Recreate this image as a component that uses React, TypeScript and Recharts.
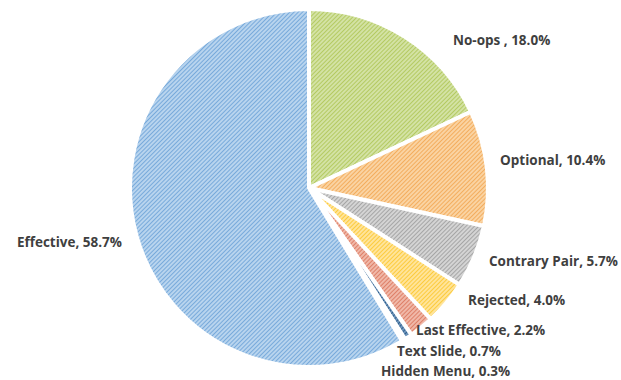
import { Pie, PieChart, Cell } from "recharts";

const CATEGORIES = [
  "No-ops ",
  "Optional",
  "Contrary Pair",
  "Rejected",
  "Last Effective",
  "Text Slide",
  "Hidden Menu",
  "Effective",
];
const SHARES = [18.0, 10.4, 5.7, 4.0, 2.2, 0.7, 0.3, 58.7];

// [light fill, hatch line]
const COLORS: Array<[string, string]> = [
  ["#d3e2a4", "#b4ca62"], // green
  ["#fad3a2", "#f3ad5e"], // orange
  ["#d4d4d4", "#a6a6a6"], // gray
  ["#ffe49a", "#fccb3e"], // yellow
  ["#f0b8a8", "#de8068"], // red
  ["#6f95bb", "#2f5f8c"], // dark blue
  ["#b8cde6", "#5b84b5"], // hidden menu
  ["#b8d4ee", "#78aadb"], // blue
];

// label anchor offsets from pie centre (left edge of text, or right edge for Effective)
const LABEL_OFFSETS: Array<[number, number, "start" | "end"]> = [
  [149, -143, "start"],
  [196, -23, "start"],
  [185, 78, "start"],
  [164, 117, "start"],
  [112, 147, "start"],
  [93, 168, "start"],
  [77, 188, "start"],
  [-182, 59, "end"],
];

const data = CATEGORIES.map((name, i) => ({ name, value: SHARES[i] }));

const CX = 304;
const CY = 183;

function renderLabel(props: any) {
  const i = props.index;
  const [dx, dy, anchor] = LABEL_OFFSETS[i];
  return (
    <text
      x={CX + dx}
      y={CY + dy}
      textAnchor={anchor}
      dominantBaseline="central"
      fill="#3f3f3f"
      fontSize={13.5}
      fontWeight={700}
      fontFamily="'Open Sans', sans-serif"
    >
      {`${CATEGORIES[i]}, ${SHARES[i].toFixed(1)}%`}
    </text>
  );
}

export default function App() {
  return (
    <div style={{ position: "absolute", left: 0, top: 0, background: "#fff" }}>
      <PieChart width={621} height={380}>
        <defs>
          {COLORS.map(([bg, fg], i) => (
            <pattern
              key={i}
              id={`hatch${i}`}
              width={3}
              height={3}
              patternUnits="userSpaceOnUse"
              patternTransform="rotate(45)"
            >
              <rect width={3} height={3} fill={bg} />
              <line x1={0} y1={0} x2={0} y2={3} stroke={fg} strokeWidth={2} />
            </pattern>
          ))}
        </defs>
        <Pie
          data={data}
          dataKey="value"
          nameKey="name"
          cx={CX}
          cy={CY}
          outerRadius={179}
          startAngle={90}
          endAngle={-270}
          stroke="#fff"
          strokeWidth={4}
          label={renderLabel}
          labelLine={false}
          isAnimationActive={false}
        >
          {data.map((d, i) => (
            <Cell key={d.name} fill={`url(#hatch${i})`} />
          ))}
        </Pie>
      </PieChart>
    </div>
  );
}
